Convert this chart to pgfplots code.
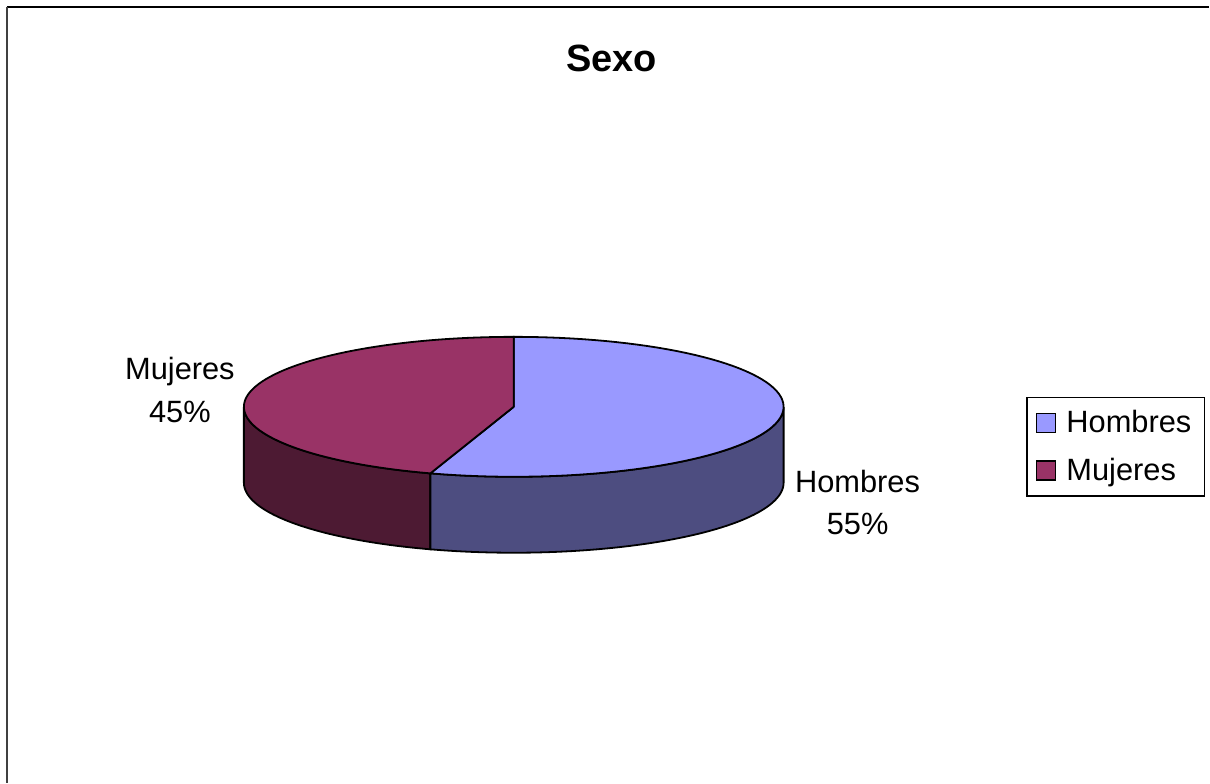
\documentclass[border=0pt]{standalone}
\usepackage{fontspec}
\setmainfont{Liberation Sans}
\usepackage{pgfplots}
\usepackage{pgfplotstable}
\pgfplotsset{compat=1.18}
\definecolor{homT}{HTML}{9999FF}
\definecolor{homS}{HTML}{4D4D80}
\definecolor{mujT}{HTML}{993366}
\definecolor{mujS}{HTML}{4D1A33}
\pgfplotstableread{
sexo value
Hombres 55
Mujeres 45
}\datos
\begin{document}
\begin{tikzpicture}
\pgfplotstablegetelem{0}{value}\of\datos \let\vH\pgfplotsretval
\pgfplotstablegetelem{1}{value}\of\datos \let\vM\pgfplotsretval
\pgfmathsetmacro{\fH}{\vH/(\vH+\vM)}
\pgfmathsetmacro{\fM}{\vM/(\vH+\vM)}
\pgfmathsetmacro{\aB}{90-360*\fH}
\pgfmathsetmacro{\aE}{\aB-360*\fM}
\begin{axis}[
  scale only axis, width=605pt, height=391.5pt,
  xmin=0, xmax=1210, ymin=0, ymax=783, y dir=reverse,
  hide axis, clip=false,
  declare function={
    ta(\s,\a,\b)=ifthenelse(\s<=1, \a+\s*(\b-\a), ifthenelse(\s<=2, \b, ifthenelse(\s<=3, \b-(\s-2)*(\b-\a), \a)));
    hd(\s)=ifthenelse(\s<=1,0,ifthenelse(\s<=2,\s-1,ifthenelse(\s<=3,1,4-\s)));
    rr(\s)=ifthenelse(\s<=1,\s,ifthenelse(\s<=2,1,3-\s));
    tg(\s,\a,\b)=ifthenelse(\s<=1,\a,ifthenelse(\s<=2,\a+(\s-1)*(\b-\a),\b));
  },
  legend style={at={(axis cs:1027,397)}, anchor=north west, draw=black, line width=0.6pt,
    font=\fontsize{15.4}{18}\selectfont, inner xsep=4.5pt, inner ysep=4.5pt, row sep=7pt,
    cells={anchor=west}, /tikz/every odd column/.append style={column sep=3pt}},
  legend image code/.code={\draw[#1,line width=0.7pt] (0pt,-4.75pt) rectangle (9.5pt,4.75pt);},
]
% sides
\addplot[fill=mujS, draw=black, line width=0.9pt, domain=0:4, samples=241, variable=\s, forget plot]
  ({514+270*cos(ta(\s,-180,\aB))}, {407-70*sin(ta(\s,-180,\aB))+76*hd(\s)});
\addplot[fill=homS, draw=black, line width=0.9pt, domain=0:4, samples=241, variable=\s, forget plot]
  ({514+270*cos(ta(\s,\aB,0))}, {407-70*sin(ta(\s,\aB,0))+76*hd(\s)});
% tops
\addplot[fill=homT, draw=black, line width=0.9pt, domain=0:3, samples=241, variable=\s, forget plot]
  ({514+270*rr(\s)*cos(tg(\s,90,\aB))}, {407-70*rr(\s)*sin(tg(\s,90,\aB))});
\addplot[fill=mujT, draw=black, line width=0.9pt, domain=0:3, samples=241, variable=\s, forget plot]
  ({514+270*rr(\s)*cos(tg(\s,\aB,\aE))}, {407-70*rr(\s)*sin(tg(\s,\aB,\aE))});
\addlegendimage{fill=homT, draw=black}
\addlegendentry{Hombres}
\addlegendimage{fill=mujT, draw=black}
\addlegendentry{Mujeres}
% labels
\node[align=center, font=\fontsize{15.4}{21.5}\selectfont] at (axis cs:180,390) {Mujeres\\45\%};
\node[align=center, font=\fontsize{15.4}{21}\selectfont] at (axis cs:858,503) {Hombres\\55\%};
\node[font=\fontsize{19}{22}\bfseries] at (axis cs:612,58) {Sexo};
% frame
\draw[black, line width=0.6pt] (axis cs:7,7) -- (axis cs:1210,7);
\draw[black!75, line width=1pt] (axis cs:7,7) -- (axis cs:7,783);
\coordinate (bl) at (axis cs:0,783);
\coordinate (tr) at (axis cs:1210,0);
\end{axis}
\path (bl) rectangle (tr);
\end{tikzpicture}
\end{document}
